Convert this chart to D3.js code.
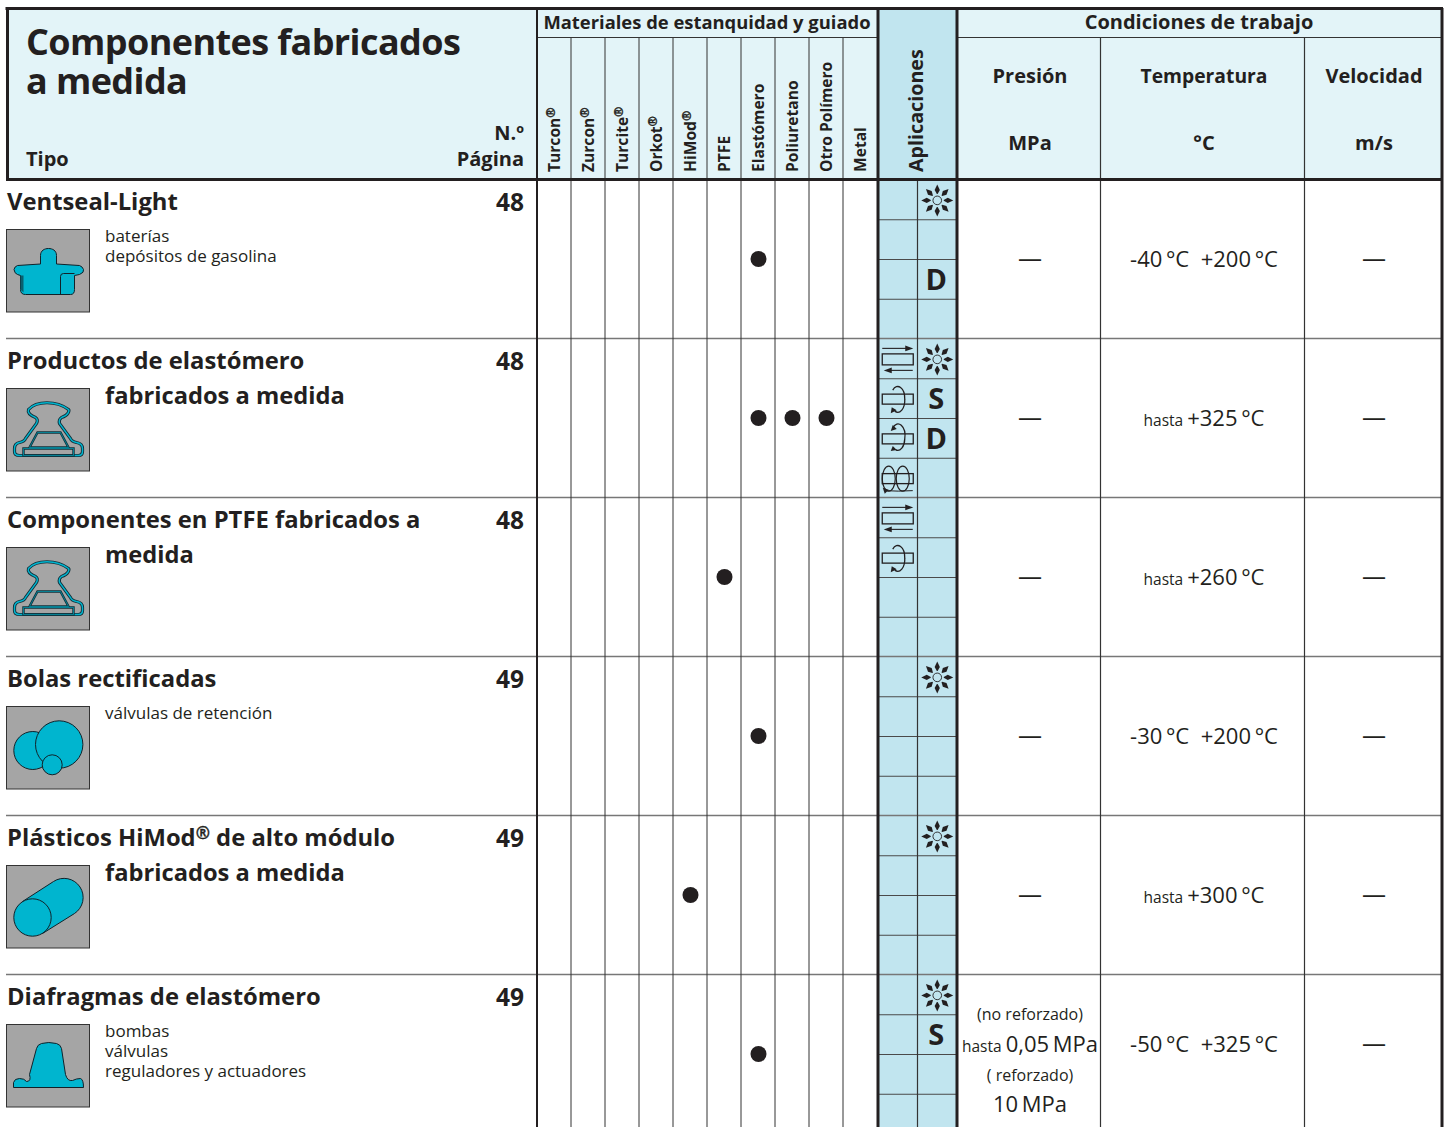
<!DOCTYPE html>
<html lang="es">
<head>
  <meta charset="UTF-8">
  <title>Componentes fabricados a medida</title>
  <script src="https://d3js.org/d3.v7.min.js"></script>
  <style>
    html, body { margin: 0; padding: 0; background: #fff; overflow: hidden; }
    svg { display: block; }
    text { font-family: "Open Sans", sans-serif; fill: #231f20; white-space: pre; }
    .b { font-weight: 700; }
  </style>
</head>
<body>
<div id="chart"></div>
<script>
  // table content
  var materials = ["Turcon®", "Zurcon®", "Turcite®", "Orkot®", "HiMod®", "PTFE", "Elastómero", "Poliuretano", "Otro Polímero", "Metal"];
  var rowNames = ["Ventseal-Light", "Productos de elastómero", "Componentes en PTFE fabricados a", "Bolas rectificadas", "Plásticos HiMod® de alto módulo", "Diafragmas de elastómero"];
  var rowNames2 = ["", "fabricados a medida", "medida", "", "fabricados a medida", ""];
  var pages = [48, 48, 48, 49, 49, 49];
  var uses = [["baterías", "depósitos de gasolina"], [], [], ["válvulas de retención"], [], ["bombas", "válvulas", "reguladores y actuadores"]];
  var rowMaterials = [["Elastómero"], ["Elastómero", "Poliuretano", "Otro Polímero"], ["PTFE"], ["Elastómero"], ["HiMod®"], ["Elastómero"]];
  var appsLeft = [["", "", "", ""], ["rec", "rot", "osc", "hel"], ["rec", "rot", "", ""], ["", "", "", ""], ["", "", "", ""], ["", "", "", ""]];
  var appsRight = [["star", "", "D", ""], ["star", "S", "D", ""], ["", "", "", ""], ["star", "", "", ""], ["star", "", "", ""], ["star", "S", "", ""]];
  var tempPrefix = ["", "hasta ", "hasta ", "", "hasta ", ""];
  var tempValues = ["-40\u2009°C  +200\u2009°C", "+325\u2009°C", "+260\u2009°C", "-30\u2009°C  +200\u2009°C", "+300\u2009°C", "-50\u2009°C  +325\u2009°C"];
  var shapes = ["vent", "profile", "profile", "balls", "cyl", "diaph"];
  var condHeads = ["Presión", "Temperatura", "Velocidad"];
  var condUnits = ["MPa", "°C", "m/s"];

  var ink = "#231f20", pale = "#e3f4f8", blue = "#c1e5ef", teal = "#00b5cf", grey = "#a5a5a5";
  var width = 1449, height = 1127;

  var svg = d3.select("#chart").append("svg").attr("width", width).attr("height", height);

  // scales
  var matX = d3.scaleBand().domain(materials).range([537, 877]);
  var rowY = d3.scaleBand().domain(rowNames).range([180, 180 + 159 * 6]);
  var subY = d3.scaleBand().domain(d3.range(4)).range([0, rowY.bandwidth()]);
  var appX = d3.scaleBand().domain(["l", "r"]).range([878, 957]);
  var condEdges = [957, 1100.5, 1304.5, 1442];
  var condCenters = [1030, 1204, 1374];

  function hline(x1, x2, y, color, w) {
    svg.append("line").attr("x1", x1).attr("x2", x2).attr("y1", y).attr("y2", y).attr("stroke", color).attr("stroke-width", w);
  }
  function vline(x, y1, y2, color, w) {
    svg.append("line").attr("x1", x).attr("x2", x).attr("y1", y1).attr("y2", y2).attr("stroke", color).attr("stroke-width", w);
  }
  // text with the ® raised, regRatio is the size of the ® against the text
  function label(x, y, str, size, cls, anchor, regRatio) {
    var t = svg.append("text").attr("x", x).attr("y", y)
      .attr("font-size", size).attr("text-anchor", anchor || "start").attr("class", cls || null);
    var k = regRatio || 0.72;
    str.split("®").forEach(function(part, i) {
      if (i > 0) {
        t.append("tspan").attr("font-size", size * k).attr("dy", -size * 0.3)
          .attr("stroke", ink).attr("stroke-width", 0.35).text("®");
        t.append("tspan").attr("dy", size * 0.3).text(part);
      } else {
        t.append("tspan").text(part);
      }
    });
    return t;
  }

  // backgrounds
  svg.append("rect").attr("x", 7).attr("y", 8).attr("width", 1435).attr("height", 171).attr("fill", pale);
  svg.append("rect").attr("x", 878).attr("y", 8).attr("width", 79).attr("height", height).attr("fill", blue);

  // header text
  label(26, 54.5, "Componentes fabricados", 36, "b").attr("letter-spacing", -0.6);
  label(26, 93.5, "a medida", 36, "b").attr("letter-spacing", -0.6);
  label(26, 166, "Tipo", 20, "b");
  label(524, 140, "N.º", 20, "b", "end");
  label(524, 166, "Página", 20, "b", "end");
  label(707, 29, "Materiales de estanquidad y guiado", 18.4, "b", "middle");
  label(1199, 29, "Condiciones de trabajo", 20, "b", "middle");

  materials.forEach(function(m) {
    var x = matX(m) + matX.bandwidth() / 2 + 5.5;
    label(0, 0, m, 15.6, "b", "start", 0.8).attr("transform", "translate(" + x + ",172) rotate(-90)");
  });
  label(0, 0, "Aplicaciones", 19.7, "b").attr("transform", "translate(923,172) rotate(-90)");

  condHeads.forEach(function(h, i) {
    label(condCenters[i], 83, h, i === 1 ? 19.3 : 20, "b", "middle");
    label(condCenters[i], 150, condUnits[i], 20, "b", "middle");
  });

  // grid lines
  rowNames.forEach(function(r, i) {
    subY.domain().slice(1).forEach(function(s) {
      hline(878, 957, rowY(r) + subY(s), "#4a4a4a", 1);
    });
    if (i > 0) hline(6, 1442, rowY(r) - 0.5, "#777", 1.5);
  });
  materials.slice(1).forEach(function(m) { vline(matX(m), 37, height, "#333", 1); });
  vline(appX("r"), 179, height, "#333", 1.2);
  condEdges.slice(1, 3).forEach(function(x) { vline(x, 38, height, "#333", 1.2); });
  hline(537, 877, 37.5, "#333", 1);
  hline(957, 1442, 37.5, "#333", 1);

  // heavy frame
  hline(5.5, 1443, 8.5, ink, 3);
  hline(6, 1443, 179.5, ink, 3);
  vline(7.5, 8, 181, ink, 3);
  vline(537, 8, height, ink, 2);
  vline(878, 8, height, ink, 3);
  vline(957, 8, height, ink, 3);
  vline(1442, 8, height, ink, 3);

  // little drawings of the parts, in a 83 x 83 box
  var shapeDraw = {
    vent: function(g) {
      g.append("path").attr("d", "M14,46V60Q14,65 19,65H64Q68,65 68,60V46L73,45Q78,43 77,40Q76,37 73,36L50,34.5V26C50,21 46,19 42,19C38,19 34,21 34,26V34.5L11,36Q8,37 7.5,40Q8,44 11,45Z")
        .attr("fill", teal).attr("stroke", "#10222a").attr("stroke-width", 1);
      g.append("path").attr("d", "M54,65V47Q54,44 57,44H68").attr("fill", "none").attr("stroke", "#10222a").attr("stroke-width", 1);
      g.append("path").attr("d", "M14,46V60L17,63V46Z").attr("fill", "#0a5f6e");
    },
    profile: function(g) {
      var outer = "M8,60V63Q8,67 13,67H72Q76,67 76,63V60Q76,55 70,54Q65,53 64,50L53,35Q52,31 55,29C62,27 63,22 62,21C50,12 30,12 22,21C21,24 24,27 29,29Q32,31 30,35L19,50Q18,53 13,54Q8,55 8,60Z";
      var inner = "M31,44H54L62,59H23Z M17,60H67V67H17Z";
      [[outer, 3.2], [inner, 2.4]].forEach(function(p) {
        g.append("path").attr("d", p[0]).attr("fill", "none").attr("stroke", "#10303a").attr("stroke-width", p[1]);
        g.append("path").attr("d", p[0]).attr("fill", "none").attr("stroke", teal).attr("stroke-width", p[1] - 1.8);
      });
    },
    balls: function(g) {
      [[26.3, 44, 19], [52.7, 38, 23.7], [45.7, 58.3, 10]].forEach(function(c) {
        g.append("circle").attr("cx", c[0]).attr("cy", c[1]).attr("r", c[2])
          .attr("fill", teal).attr("stroke", "#10222a").attr("stroke-width", 1);
      });
    },
    cyl: function(g) {
      g.append("path").attr("d", "M16,36L47,16A19,19 0 0 1 68,48L36,68Z").attr("fill", teal).attr("stroke", "#10222a").attr("stroke-width", 1);
      g.append("circle").attr("cx", 26).attr("cy", 52).attr("r", 18.7).attr("fill", teal).attr("stroke", "#10222a").attr("stroke-width", 1);
    },
    diaph: function(g) {
      g.append("path").attr("d", "M7,63V58Q8,54 13,54Q18,54 20,57Q25,57 23,50L30,24Q31,20 35,19Q42,17 50,19Q54,20 55,24L59,50Q61,57 66,56Q70,54 74,54Q77,55 77,63Z")
        .attr("fill", teal).attr("stroke", "#10222a").attr("stroke-width", 1);
    }
  };

  // icons of the application cells, centred on 0,0
  function arrowHead(g, x, y, dir) {
    g.append("path").attr("d", "M" + x + "," + y + "l" + (-8 * dir) + ",-2.8v5.6z").attr("fill", ink);
  }
  function rotDraw(g) {
    g.append("rect").attr("x", -15.5).attr("y", -5).attr("width", 31).attr("height", 10).attr("fill", "none").attr("stroke", ink).attr("stroke-width", 1.3);
  }
  var iconDraw = {
    star: function(g) {
      g.append("circle").attr("r", 4.3).attr("fill", "none").attr("stroke", ink).attr("stroke-width", 0.9);
      d3.range(8).forEach(function(i) {
        var a = g.append("g").attr("transform", "rotate(" + i * 45 + ")");
        a.append("path").attr("d", "M16,0L10.5,-2.6L6.5,-0.4V0.4L10.5,2.6Z").attr("fill", ink);
      });
    },
    rec: function(g) {
      g.append("rect").attr("x", -15.5).attr("y", -5.5).attr("width", 31).attr("height", 11).attr("fill", "none").attr("stroke", ink).attr("stroke-width", 1.3);
      g.append("line").attr("x1", -15.5).attr("x2", 10).attr("y1", -11).attr("y2", -11).attr("stroke", ink).attr("stroke-width", 1.1);
      arrowHead(g, 15.5, -11, 1);
      g.append("line").attr("x1", 15).attr("x2", -8).attr("y1", 11).attr("y2", 11).attr("stroke", ink).attr("stroke-width", 1.1);
      arrowHead(g, -14, 11, -1);
    },
    rot: function(g) {
      rotDraw(g);
      g.append("path").attr("d", "M-5,-9A7,12 0 0 1 7,0A7,12 0 0 1 -3,12").attr("fill", "none").attr("stroke", ink).attr("stroke-width", 1.3);
      g.append("path").attr("d", "M-7,14L-6,8L-1,11Z").attr("fill", ink);
    },
    osc: function(g) {
      rotDraw(g);
      g.append("path").attr("d", "M-5,-11A7,12 0 0 1 7,0A7,12 0 0 1 -2,11").attr("fill", "none").attr("stroke", ink).attr("stroke-width", 1.3);
      g.append("path").attr("d", "M-7,12L-5,7L-1,11Z").attr("fill", ink);
      g.append("path").attr("d", "M-5,-14L-7,-8L-1,-10Z").attr("fill", ink);
    },
    hel: function(g) {
      rotDraw(g);
      g.append("ellipse").attr("cx", -9).attr("cy", 0).attr("rx", 6.5).attr("ry", 12.5).attr("fill", "none").attr("stroke", ink).attr("stroke-width", 1.2);
      g.append("ellipse").attr("cx", 5).attr("cy", 0).attr("rx", 6.5).attr("ry", 12.5).attr("fill", "none").attr("stroke", ink).attr("stroke-width", 1.2);
      g.append("path").attr("d", "M-13,12Q0,13 15,12").attr("fill", "none").attr("stroke", ink).attr("stroke-width", 1);
      g.append("path").attr("d", "M-13,15L-15,9L-9,11Z").attr("fill", ink);
    }
  };

  function drawApp(kind, col, rowName, s) {
    if (!kind) return;
    var cx = appX(col) + appX.bandwidth() / 2;
    var cy = rowY(rowName) + subY(s) + subY.bandwidth() / 2;
    if (iconDraw[kind]) {
      iconDraw[kind](svg.append("g").attr("transform", "translate(" + cx + "," + (cy + 0.5) + ")"));
    } else {
      label(cx - 1, cy + 10.5, kind, 29, "b", "middle");
    }
  }

  // rows
  rowNames.forEach(function(r, i) {
    var y0 = rowY(r);
    var mid = y0 + rowY.bandwidth() / 2;
    label(7, y0 + 30.2, r, 23.8, "b");
    label(524, y0 + 30.5, String(pages[i]), 24.5, "b", "end");
    if (rowNames2[i]) label(105, y0 + 64.7, rowNames2[i], 23.7, "b");
    uses[i].forEach(function(u, k) {
      label(105, y0 + 62 + k * 20, u, 17);
    });

    // part box
    var box = svg.append("g").attr("transform", "translate(6.5," + (y0 + 49.5) + ")");
    box.append("rect").attr("width", 83).attr("height", 82.5).attr("fill", grey).attr("stroke", "#333").attr("stroke-width", 1);
    shapeDraw[shapes[i]](box);

    // material dots
    rowMaterials[i].forEach(function(m) {
      svg.append("circle").attr("cx", matX(m) + matX.bandwidth() / 2 + 0.5).attr("cy", mid - 0.5).attr("r", 8).attr("fill", ink);
    });

    subY.domain().forEach(function(s) {
      drawApp(appsLeft[i][s], "l", r, s);
      drawApp(appsRight[i][s], "r", r, s);
    });

    // conditions, the last row sits higher because its pressure cell is tall
    var condY = (i === 5 ? mid - 10 : mid) + 7.5;
    label(condCenters[2], condY, "—", 24, null, "middle");
    if (i < 5) label(condCenters[0], condY, "—", 24, null, "middle");
    var t = label(condCenters[1], condY, "", 22, null, "middle");
    if (tempPrefix[i]) t.append("tspan").attr("font-size", 15.5).text(tempPrefix[i]);
    t.append("tspan").text(tempValues[i]);
  });

  // pressure of the last row has its own four lines
  var lastY = rowY(rowNames[5]);
  label(1030, lastY + 45, "(no reforzado)", 16, null, "middle");
  var p = label(1030, lastY + 76.5, "", 22, null, "middle");
  p.append("tspan").attr("font-size", 15.5).text("hasta ");
  p.append("tspan").text("0,05\u2009MPa");
  label(1030, lastY + 106, "( reforzado)", 16, null, "middle");
  label(1030, lastY + 137, "10\u2009MPa", 22, null, "middle");
</script>
</body>
</html>
